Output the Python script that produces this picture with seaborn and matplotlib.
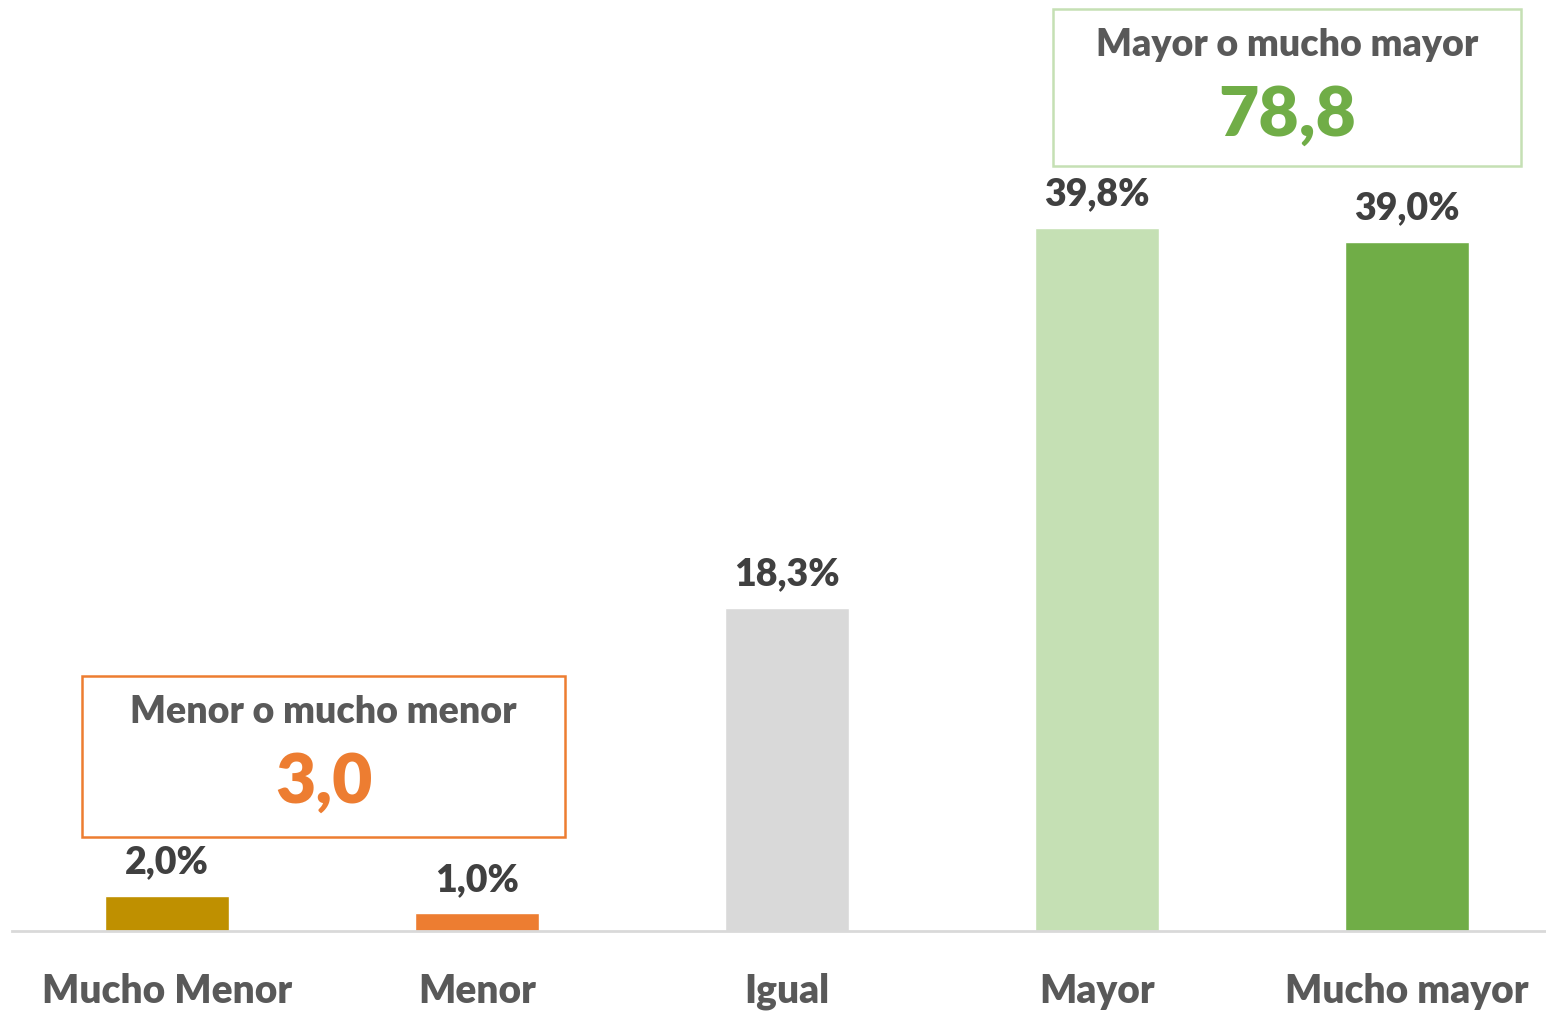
import matplotlib
matplotlib.use("Agg")
import matplotlib.pyplot as plt
import seaborn as sns
import pandas as pd
from matplotlib.patches import Rectangle

categories = ["Mucho Menor", "Menor", "Igual", "Mayor", "Mucho mayor"]
values = [2.0, 1.0, 18.3, 39.8, 39.0]
colors = ["#BF9000", "#ED7D31", "#D9D9D9", "#C5E0B4", "#70AD47"]
low_title = "Menor o mucho menor"
high_title = "Mayor o mucho mayor"

sns.set_theme(style="white")
plt.rcParams["font.family"] = ["Lato", "DejaVu Sans"]

df = pd.DataFrame({"cat": categories, "val": values})

W, H = 1546, 1011
fig = plt.figure(figsize=(W / 100, H / 100), dpi=100)
ax = fig.add_axes([12 / W, (H - 931) / H, 1 - 12 / W, 931 / H])

sns.barplot(data=df, x="cat", y="val", hue="cat", palette=colors, order=categories,
            hue_order=categories, width=0.4, legend=False, ax=ax, saturation=1)

ax.set_xlim(-0.5, 4.448)
ax.set_ylim(0, 52.7)
ax.set_xlabel("")
ax.set_ylabel("")
ax.set_yticks([])
for s in ["top", "right", "left"]:
    ax.spines[s].set_visible(False)
ax.spines["bottom"].set_color("#D9D9D9")
ax.spines["bottom"].set_linewidth(2)
ax.tick_params(axis="x", length=0, pad=30, labelsize=28, labelcolor="#595959")
for lab in ax.get_xticklabels():
    lab.set_fontweight("heavy")

for i, v in enumerate(values):
    ax.annotate(f"{v:.1f}%".replace(".", ","), (i, v), xytext=(0, 12),
                textcoords="offset points", ha="center", va="bottom",
                fontsize=27, fontweight="heavy", color="#404040")

low_sum = values[0] + values[1]
high_sum = values[3] + values[4]

def box(x0, y0, x1, y1, edge, title, num, numcolor):
    fig.patches.append(Rectangle((x0 / W, 1 - y1 / H), (x1 - x0) / W, (y1 - y0) / H,
                                 transform=fig.transFigure, fill=False,
                                 edgecolor=edge, linewidth=1.8))
    cx = (x0 + x1) / 2 / W
    fig.text(cx, 1 - (y0 + 36) / H, title, ha="center", va="center",
             fontsize=27, fontweight="heavy", color="#595959")
    fig.text(cx, 1 - (y0 + 107) / H, f"{num:.1f}".replace(".", ","), ha="center",
             va="center", fontsize=50, fontweight="heavy", color=numcolor)

box(82, 676, 565, 837, "#ED7D31", low_title, low_sum, "#ED7D31")
box(1053, 9, 1521, 166, "#C5E0B4", high_title, high_sum, "#70AD47")

fig.savefig("out.png", dpi=100, facecolor="white")
